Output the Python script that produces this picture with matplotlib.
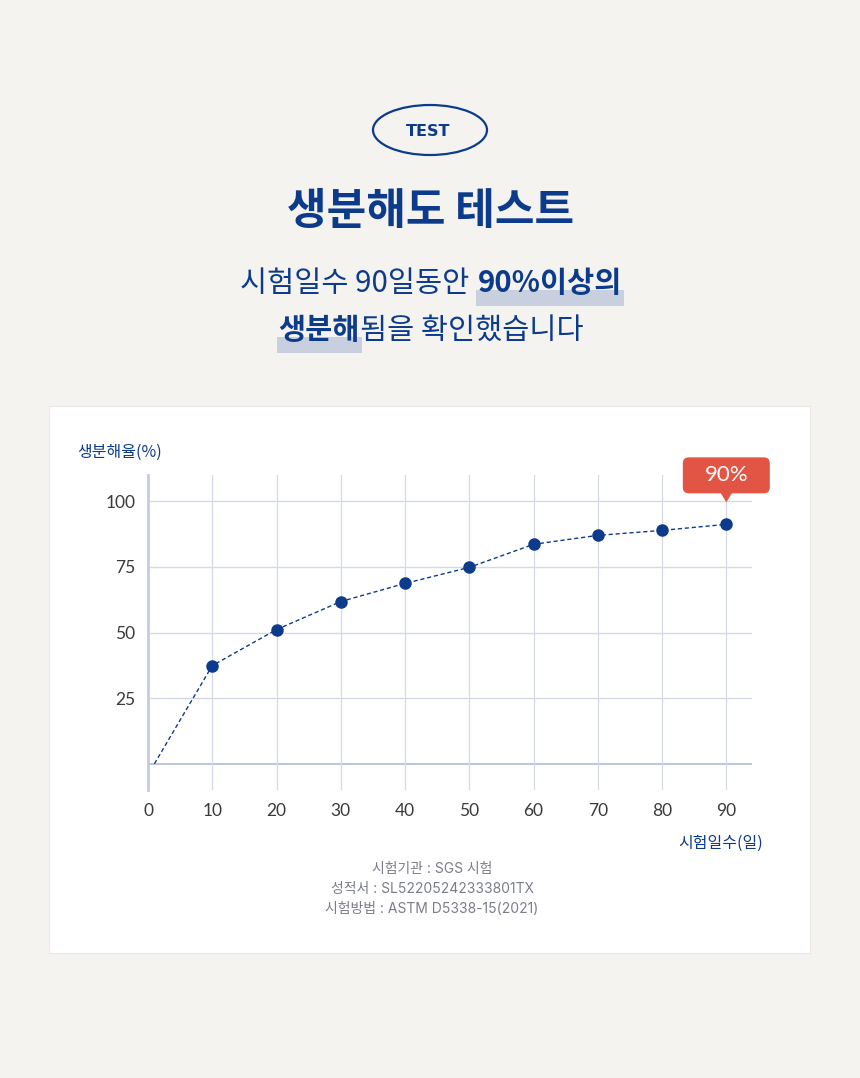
import matplotlib
matplotlib.use("Agg")
import matplotlib.pyplot as plt
from matplotlib.patches import FancyBboxPatch, Ellipse, Rectangle, Polygon

plt.rcParams['font.family'] = ['Noto Sans CJK KR', 'DejaVu Sans']

# data
days = [1, 10, 20, 30, 40, 50, 60, 70, 80, 90]
rate = [0, 37.4, 51.1, 61.8, 68.7, 74.8, 83.6, 87.0, 88.9, 91.2]
x_ticks = [0, 10, 20, 30, 40, 50, 60, 70, 80, 90]
y_ticks = [0, 25, 50, 75, 100]
y_labels = ['', '25', '50', '75', '100']
callout = "90%"
notes = ["시험기관 : SGS 시험",
         "성적서 : SL52205242333801TX",
         "시험방법 : ASTM D5338-15(2021)"]

W, H = 860, 1078
BG = '#f4f3ef'
NAVY = '#0d3b8c'
GRID = '#d3d9e6'
RED = '#e25443'
MIX = ['Inter', 'Noto Sans CJK KR']


def px(x):
    return x / W


def py(y):
    return 1 - y / H


fig = plt.figure(figsize=(W / 100, H / 100), dpi=100)
fig.patch.set_facecolor(BG)

# white card
card = FancyBboxPatch((px(49), py(953)), px(810) - px(49), py(406) - py(953),
                      boxstyle="square,pad=0", transform=fig.transFigure,
                      fc='white', ec='#ebe9e4', lw=0.8, zorder=0)
fig.add_artist(card)

# TEST badge
fig.add_artist(Ellipse((px(430), py(130)), 114 / W, 50 / H, transform=fig.transFigure,
                       fc='none', ec=NAVY, lw=1.6))
fig.text(px(428), py(131), "TEST", ha='center', va='center', fontsize=11.5,
         fontweight='bold', color=NAVY, family=['DejaVu Sans'])

# title
fig.text(px(431), py(211), "생분해도 테스트", ha='center', va='center',
         fontsize=31, fontweight='bold', color=NAVY)

renderer = fig.canvas.get_renderer()


def rich_line(segments, cx, cy, size, gap_after=()):
    texts = []
    for s, w in segments:
        t = fig.text(0, py(cy), s, fontsize=size, fontweight=w, color=NAVY,
                     ha='left', va='center', zorder=3)
        texts.append(t)
    widths = [t.get_window_extent(renderer).width for t in texts]
    gap = 0.3 * size * 100 / 72
    total = sum(widths) + gap * len(gap_after)
    x = cx - total / 2
    spans = []
    for i, (t, w) in enumerate(zip(texts, widths)):
        t.set_x(px(x))
        spans.append((x, x + w))
        x += w
        if i in gap_after:
            x += gap
    return spans


s1 = rich_line([("시험일수 90일동안", 'normal'), ("90%이상의", 'bold')], 431, 283, 21.2,
               gap_after=(0,))
s2 = rich_line([("생분해", 'bold'), ("됨을 확인했습니다", 'normal')], 431, 330, 21.2)
for (x0, x1), cy in [(s1[1], 283), (s2[0], 330)]:
    fig.add_artist(Rectangle((px(x0 - 2), py(cy + 23)), (x1 - x0 + 4) / W, 16 / H,
                             transform=fig.transFigure, fc='#c8d0df', ec='none',
                             zorder=2))

# chart
ax = fig.add_axes([px(148), py(790), px(752) - px(148), py(475) - py(790)])
ax.set_facecolor('none')
ax.set_xlim(0, 94)
ax.set_ylim(-10, 110)
for sp in ['top', 'right', 'bottom']:
    ax.spines[sp].set_visible(False)
ax.spines['left'].set_color('#c6cbe5')
ax.spines['left'].set_linewidth(2)
ax.set_xticks(x_ticks)
ax.set_yticks(y_ticks)
ax.set_yticklabels(y_labels)
ax.tick_params(length=0, labelsize=12.5, labelcolor='#3a3a3a', pad=9)
for lab in ax.get_xticklabels() + ax.get_yticklabels():
    lab.set_family(['Lato', 'DejaVu Sans'])
for v in y_ticks[1:]:
    ax.axhline(v, color=GRID, lw=1, zorder=1)
ax.axhline(0, color='#b8c6e0', lw=1.4, zorder=1)
for v in x_ticks[1:]:
    ax.axvline(v, color=GRID, lw=0.9, zorder=1)

ax.plot(days, rate, color=NAVY, lw=1, ls=(0, (3, 2)), zorder=3)
ax.plot(days[1:], rate[1:], 'o', color=NAVY, ms=8, zorder=4)

fig.text(px(77), py(452), "생분해율(%)", ha='left', va='center', fontsize=11.5,
         color=NAVY)
fig.text(px(763), py(843), "시험일수(일)", ha='right', va='center', fontsize=11.5,
         color=NAVY)

# callout above last point
cx, cy = ax.transData.transform((days[-1], rate[-1]))
fig.add_artist(FancyBboxPatch((cx - 43.5, cy + 31), 87, 36,
                              boxstyle="round,pad=0,rounding_size=6",
                              transform=None, fc=RED, ec='none', zorder=5))
fig.add_artist(Polygon([(cx - 6, cy + 32), (cx + 6, cy + 32), (cx, cy + 22)],
                       closed=True, transform=None, fc=RED, ec='none', zorder=5))
fig.text(cx / W, (cy + 49) / H, callout, ha='center', va='center', fontsize=16,
         color='white', family=['Lato', 'DejaVu Sans'], zorder=6)

for i, n in enumerate(notes):
    fig.text(px(432), py(869 + 20 * i), n, ha='center', va='center', fontsize=10,
             color='#7b7d88', family=MIX)

fig.savefig("out.png", dpi=100, facecolor=BG)
